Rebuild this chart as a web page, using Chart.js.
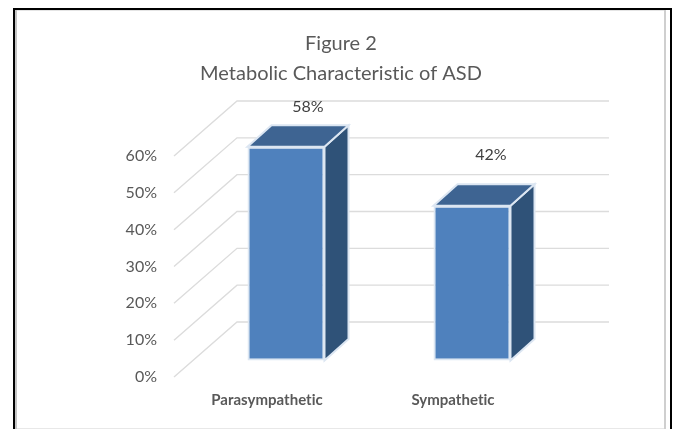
<!DOCTYPE html>
<html>
<head>
<meta charset="utf-8">
<script src="https://cdn.jsdelivr.net/npm/chart.js@4"></script>
<style>
html,body{margin:0;padding:0;background:#fff;width:675px;height:429px;overflow:hidden}
#wrap{position:relative;width:675px;height:429px}
canvas{position:absolute;left:0;top:0;filter:blur(0.35px)}
.f{position:absolute}
</style>
</head>
<body>
<div id="wrap">
<div class="f" style="left:13px;top:8px;width:659px;height:2px;background:#000"></div>
<div class="f" style="left:15px;top:10px;width:649px;height:1px;background:#e4e4e4"></div>
<div class="f" style="left:13px;top:8px;width:2px;height:421px;background:#000"></div>
<div class="f" style="left:15px;top:10px;width:2px;height:419px;background:#c4c4c4"></div>
<div class="f" style="left:670px;top:8px;width:2px;height:421px;background:#000"></div>
<div class="f" style="left:664px;top:10px;width:2px;height:419px;background:#cfcfcf"></div>
<div class="f" style="left:17px;top:428px;width:647px;height:1px;background:#e8e8e8"></div>
<canvas id="c" width="675" height="429"></canvas>
</div>
<script>
const titleLines = ['Figure 2', 'Metabolic Characteristic of ASD'];
const categories = ['Parasympathetic', 'Sympathetic'];
const values = [58, 42];
const yMin = 0, yMax = 60, yStep = 10;

const wallDepth = {dx: 63, dy: -55};
const barShift = {dx: 19, dy: -16.5};
const barDepth = {dx: 24, dy: -21.5};
const labelOffsets = [{dx: 41, dy: -57}, {dx: 38, dy: -67}];
const titleShift = 6;

const FRONT = '#4f81bd', TOP = '#3e6492', SIDE = '#2f5278', EDGE = '#dce6f2';
const GRID = '#dcdcdc', TEXT = '#595959';
const FONT = 'Lato, Carlito, sans-serif';

function poly(ctx, pts, fill, stroke) {
  ctx.beginPath();
  pts.forEach((p, i) => i ? ctx.lineTo(p[0], p[1]) : ctx.moveTo(p[0], p[1]));
  ctx.closePath();
  ctx.fillStyle = fill;
  ctx.fill();
  ctx.lineWidth = 2;
  ctx.lineJoin = 'miter';
  ctx.strokeStyle = stroke;
  ctx.stroke();
}

const scene3d = {
  id: 'scene3d',
  afterLayout(chart) {
    chart.titleBlock.left += titleShift;
    chart.titleBlock.right += titleShift;
  },
  beforeDraw(chart) {
    chart.ctx.letterSpacing = '0.01px';
  },
  beforeDatasetsDraw(chart) {
    const {ctx, chartArea: a, scales: {y}} = chart;
    ctx.save();
    ctx.strokeStyle = GRID;
    ctx.lineWidth = 1.4;
    y.ticks.forEach(t => {
      const py = y.getPixelForValue(t.value);
      ctx.beginPath();
      ctx.moveTo(a.left, py);
      ctx.lineTo(a.left + wallDepth.dx, py + wallDepth.dy);
      ctx.lineTo(a.right + wallDepth.dx, py + wallDepth.dy);
      ctx.stroke();
    });
    ctx.restore();
    ctx.save();
    ctx.translate(barShift.dx, barShift.dy);
    chart.getDatasetMeta(0).data.forEach(bar => {
      const w = bar.width / 2, l = bar.x - w, r = bar.x + w, t = bar.y, b = bar.base;
      const dx = barDepth.dx, dy = barDepth.dy;
      poly(ctx, [[r, t], [r + dx, t + dy], [r + dx, b + dy], [r, b]], SIDE, EDGE);
      poly(ctx, [[l, t], [l + dx, t + dy], [r + dx, t + dy], [r, t]], TOP, EDGE);
    });
  },
  afterDatasetsDraw(chart) {
    const {ctx} = chart;
    ctx.restore();
    ctx.save();
    ctx.font = '16px ' + FONT;
    ctx.fillStyle = '#404040';
    ctx.textAlign = 'center';
    ctx.textBaseline = 'middle';
    chart.getDatasetMeta(0).data.forEach((bar, i) => {
      ctx.fillText(values[i] + '%', bar.x + labelOffsets[i].dx, bar.y + labelOffsets[i].dy);
    });
    ctx.restore();
  }
};

new Chart(document.getElementById('c'), {
  type: 'bar',
  data: {
    labels: categories,
    datasets: [{
      data: values,
      backgroundColor: FRONT,
      borderColor: EDGE,
      borderWidth: 2,
      borderSkipped: false,
      barPercentage: 0.414,
      categoryPercentage: 1,
      clip: false
    }]
  },
  options: {
    responsive: false,
    animation: false,
    devicePixelRatio: 1,
    layout: {padding: {left: 124, right: 129, top: 0, bottom: 0}},
    plugins: {
      legend: {display: false},
      tooltip: {enabled: false},
      title: {
        display: true,
        text: titleLines,
        color: TEXT,
        font: {family: FONT, size: 20, weight: 'normal', lineHeight: 1.5},
        padding: {top: 29, bottom: 67}
      }
    },
    scales: {
      x: {
        grid: {display: false},
        border: {display: false},
        ticks: {color: TEXT, font: {family: FONT, size: 15, weight: 'bold'}, padding: 6, maxRotation: 0},
        afterFit(s) { s.height = 52; }
      },
      y: {
        min: yMin,
        max: yMax,
        grid: {display: false},
        border: {display: false},
        ticks: {stepSize: yStep, color: TEXT, font: {family: FONT, size: 16}, padding: 9,
                callback: v => v + '%'},
        afterFit(s) { s.width = 50; }
      }
    }
  },
  plugins: [scene3d]
});
</script>
</body>
</html>
